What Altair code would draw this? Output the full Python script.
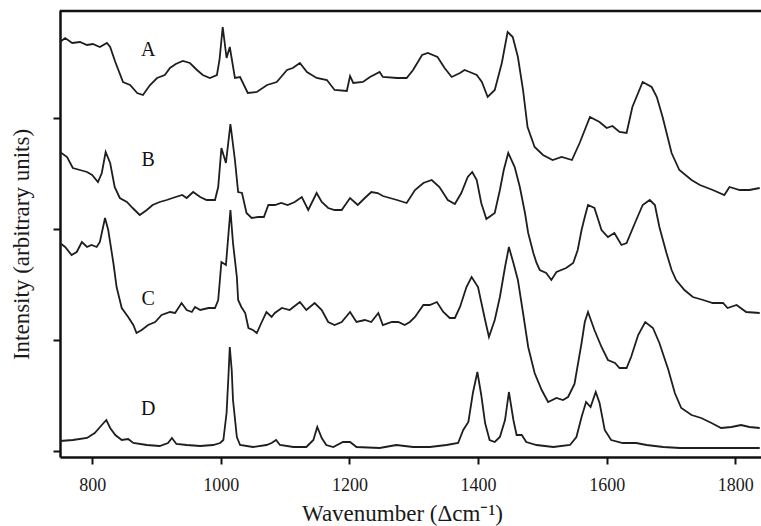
import altair as alt
import pandas as pd

# Wavenumbers (Δcm-1) and intensities (arbitrary units, spectra offset vertically)
A_wn = [750,758,769,781,792,801,812,823,828,836,848,859,870,879,890,901,913,921,930,941,
        952,963,972,983,994,998,1003,1009,1014,1022,1030,1042,1056,1072,1087,1103,1112,1123,1134,1149,
        1165,1177,1196,1201,1206,1221,1232,1247,1252,1274,1289,1299,1313,1322,1337,1348,1359,1372,1379,1387,
        1398,1406,1415,1426,1437,1446,1454,1462,1470,1477,1488,1501,1516,1530,1546,1558,1574,1589,1600,1609,
        1620,1631,1640,1656,1670,1678,1687,1701,1713,1732,1745,1765,1783,1791,1807,1822,1838]
A_int = [409,413,408,409,406,407,404,408,404,389,369,366,358,356,366,373,376,383,387,390,
         388,381,376,373,376,391,424,393,404,373,374,358,359,366,369,381,383,388,379,373,
         371,361,360,375,368,369,374,379,374,373,373,381,396,398,394,383,374,378,381,379,
         376,369,354,361,388,419,414,394,361,324,304,296,291,294,291,308,334,329,323,325,
         319,318,344,369,364,354,334,298,281,271,266,261,256,264,261,261,263]

B_wn = [750,761,770,781,792,800,809,815,821,828,835,843,854,863,874,885,894,905,916,925,
        940,947,957,968,978,991,996,1001,1008,1015,1022,1027,1033,1040,1048,1058,1067,1074,1084,1094,
        1104,1115,1126,1136,1149,1157,1167,1177,1188,1201,1213,1224,1234,1244,1252,1263,1274,1289,1302,1315,
        1328,1340,1353,1364,1374,1384,1391,1398,1405,1413,1426,1434,1440,1447,1457,1465,1473,1478,1486,1491,
        1496,1506,1514,1522,1537,1548,1555,1561,1566,1571,1581,1592,1602,1612,1623,1631,1644,1656,1667,1675,
        1682,1693,1701,1708,1721,1734,1750,1765,1781,1788,1802,1817,1838]
B_int = [299,294,283,281,279,276,269,278,299,288,264,253,249,243,236,241,246,249,251,253,
         256,253,259,254,251,251,264,303,288,327,291,259,258,238,233,234,234,246,246,248,
         246,249,254,241,258,249,243,241,241,253,246,253,259,258,255,253,251,248,261,268,
         271,264,251,247,258,274,279,271,248,232,238,261,281,298,284,264,238,218,198,188,
         181,178,171,179,183,188,201,221,234,246,243,221,214,218,206,208,228,246,251,246,
         224,198,181,171,161,154,151,148,148,143,146,139,138]

C_wn = [750,758,768,776,784,792,799,807,812,820,825,833,838,846,856,864,869,877,887,898,
        908,921,929,939,947,955,960,968,981,991,996,1001,1008,1015,1019,1025,1027,1032,1038,1043,
        1050,1056,1063,1071,1079,1084,1095,1107,1123,1133,1146,1157,1167,1177,1188,1201,1211,1224,1234,1245,
        1252,1266,1276,1286,1294,1302,1315,1325,1336,1346,1356,1364,1372,1382,1390,1400,1411,1417,1426,1434,
        1442,1448,1455,1462,1470,1478,1488,1499,1509,1522,1532,1540,1550,1561,1566,1571,1581,1592,1602,1613,
        1620,1631,1638,1649,1660,1672,1682,1696,1706,1716,1732,1747,1763,1778,1794,1809,1822,1838]
C_int = [208,204,196,199,209,204,206,204,209,233,221,188,164,143,134,126,118,121,126,129,
         136,139,138,148,141,139,144,141,143,143,151,189,186,241,208,174,151,144,138,123,
         121,118,128,139,134,138,143,141,149,141,148,141,129,126,129,139,129,131,129,138,
         126,129,129,126,129,134,146,146,149,139,133,133,144,164,174,164,131,114,131,154,
         184,204,188,171,138,104,78,61,49,53,51,54,67,108,129,139,121,104,91,88,
         83,83,94,116,129,123,108,81,58,43,36,33,28,23,24,26,24,23]

D_wn = [750,770,792,804,815,822,828,836,846,856,864,885,905,918,924,931,947,968,988,999,
        1004,1009,1012,1014,1017,1019,1025,1030,1050,1071,1079,1086,1092,1113,1133,1144,1150,1157,1164,1175,
        1190,1201,1211,1247,1273,1299,1325,1351,1369,1377,1385,1392,1399,1405,1411,1418,1426,1434,1442,1448,
        1455,1460,1468,1475,1491,1517,1543,1553,1561,1568,1575,1583,1589,1597,1607,1625,1646,1662,1688,1714,
        1765,1838]
D_int = [10,11,13,18,26,31,23,16,11,12,8,6,5,8,13,7,6,5,6,8,
         11,38,76,104,81,51,14,6,4,6,8,11,6,4,4,11,24,13,6,4,
         9,9,4,3,6,4,4,6,8,21,29,58,79,56,28,11,9,14,31,59,
         31,16,16,9,6,4,6,14,34,49,44,59,48,21,11,8,8,6,4,3,
         3,3]

labels = ["A", "B", "C", "D"]
label_wn = [887, 887, 887, 887]
label_int = [401, 291, 152, 42]

x_ticks = [800, 1000, 1200, 1400, 1600, 1800]
y_ticks = [0, 111, 222, 333]

rows = []
for name, wn, it in [("A", A_wn, A_int), ("B", B_wn, B_int), ("C", C_wn, C_int), ("D", D_wn, D_int)]:
    for w, v in zip(wn, it):
        rows.append({"series": name, "wn": w, "int": v})
df = pd.DataFrame(rows)
lab_df = pd.DataFrame({"label": labels, "wn": label_wn, "int": label_int})

FONT = "Liberation Serif"

xscale = alt.Scale(domain=[750, 1840], nice=False, zero=False)
yscale = alt.Scale(domain=[-6, 441], nice=False, zero=False)

xaxis = alt.Axis(values=x_ticks, format="d", grid=False, title="Wavenumber (\u0394cm\u207b\u00b9)",
                 labelFont=FONT, labelFontSize=18, labelColor="#1a1a1a", labelPadding=12,
                 tickSize=7, tickWidth=2, tickColor="#111", domainWidth=2.5, domainColor="#111",
                 titleFont=FONT, titleFontSize=23, titleFontWeight="normal", titleColor="#1a1a1a",
                 titleX=342, titleY=63, titleBaseline="alphabetic")
yaxis = alt.Axis(values=y_ticks, grid=False, labels=False, title="Intensity (arbitrary units)",
                 tickSize=7, tickWidth=2, tickColor="#111", domainWidth=2.5, domainColor="#111",
                 titleFont=FONT, titleFontSize=23, titleFontWeight="normal", titleColor="#1a1a1a",
                 titleX=-32, titleY=234, titleBaseline="alphabetic")

lines = alt.Chart(df).mark_line(color="#1e1e1e", strokeWidth=1.8).encode(
    x=alt.X("wn:Q", scale=xscale, axis=xaxis),
    y=alt.Y("int:Q", scale=yscale, axis=yaxis),
    detail="series:N",
    order="wn:Q",
)

texts = alt.Chart(lab_df).mark_text(font=FONT, fontSize=20, color="#111", align="center", baseline="middle").encode(
    x=alt.X("wn:Q", scale=xscale, axis=xaxis),
    y=alt.Y("int:Q", scale=yscale, axis=yaxis),
    text="label:N",
)

top_rule = alt.Chart(pd.DataFrame({"k": [0]})).mark_rule(color="#111", strokeWidth=2.5).encode(
    x=alt.value(0), x2=alt.value(701), y=alt.value(1)
)

chart = alt.layer(lines, texts, top_rule).properties(
    width=701, height=447,
    autosize=alt.AutoSizeParams(type="none"),
    padding={"left": 60, "top": 10, "right": 0, "bottom": 69},
    background="white",
).configure(
    font=FONT,
    style={"guide-label": {"font": FONT}, "guide-title": {"font": FONT}},
).configure_view(stroke=None).configure_axis(
    labelFont=FONT, titleFont=FONT
)

chart.save("out.html", embed_options={"renderer": "svg", "actions": False})
